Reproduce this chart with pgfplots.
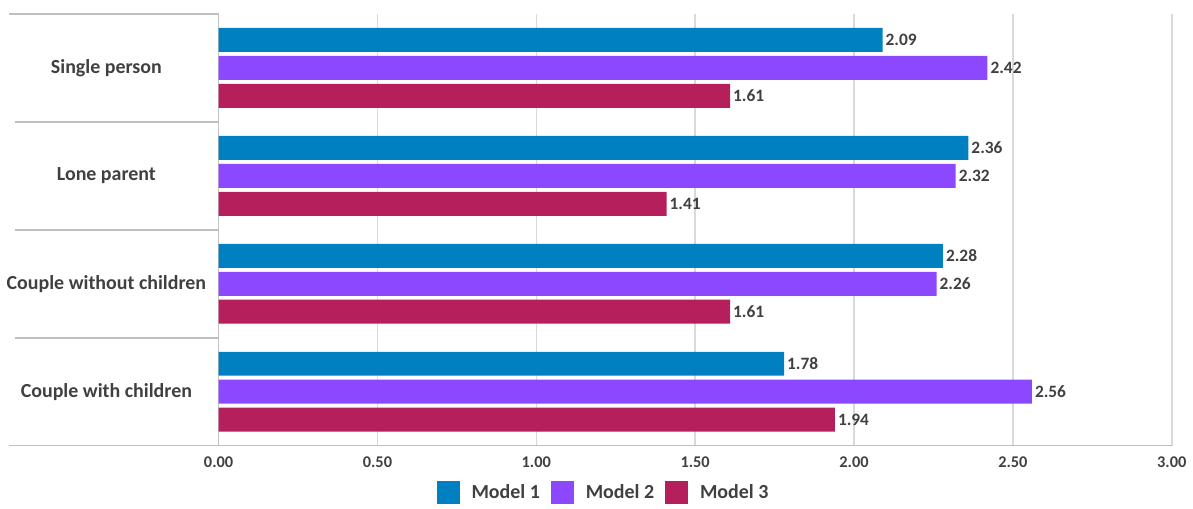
\documentclass[border=0pt]{standalone}
\usepackage{pgfplots}
\pgfplotsset{compat=1.18}
\usepackage{fontspec}
\setmainfont{Carlito}
\definecolor{mA}{HTML}{0080C0}
\definecolor{mB}{HTML}{8C48FF}
\definecolor{mC}{HTML}{B5205C}
\definecolor{txt}{HTML}{404040}
\definecolor{axl}{HTML}{BFBFBF}
\definecolor{grd}{HTML}{D9D9D9}
\pgfplotsset{sq/.style={legend image code/.code={\fill[##1] (0pt,-5.75pt) rectangle (11.5pt,5.75pt);}}}
\begin{document}
\begin{tikzpicture}
\begin{axis}[
  scale only axis, width=478pt, height=216.5pt,
  xbar, bar width=0.222,
  xmin=0, xmax=3, ymin=-0.5, ymax=3.5, y dir=reverse,
  axis x line*=bottom, axis y line*=left,
  axis line style={axl, line width=0.8pt},
  xtick={0,0.5,1,1.5,2,2.5,3},
  xticklabel={\pgfmathprintnumber[fixed,fixed zerofill,precision=2]{\tick}},
  /pgf/number format/assume math mode=true,
  xmajorgrids, grid style={grd, line width=0.8pt},
  xtick style={draw=none},
  ytick={0,1,2,3},
  yticklabels={Single person,Lone parent,Couple without children,Couple with children},
  ytick style={draw=none},
  yticklabel style={anchor=center, xshift=-52pt, font=\bfseries\fontsize{10}{12}\selectfont, text=txt},
  xticklabel style={yshift=-2pt, font=\bfseries\fontsize{8.2}{9.8}\selectfont, text=txt},
  nodes near coords={\pgfmathprintnumber[fixed,fixed zerofill,precision=2]{\pgfplotspointmeta}},
  nodes near coords style={font=\bfseries\fontsize{8.7}{10}\selectfont, text=txt, anchor=west, xshift=-2pt},
  legend columns=3,
  legend style={at={(0.407,-0.1085)}, anchor=center, draw=none, font=\bfseries\fontsize{10}{12}\selectfont, text=txt,
    nodes={inner xsep=4pt},
    /tikz/every even column/.append style={column sep=1.5pt},
    /tikz/every odd column/.append style={column sep=2pt}},
  clip=false,
]
\addplot[fill=mA, draw=none, bar shift=-0.259, sq] coordinates {(2.09,0) (2.36,1) (2.28,2) (1.78,3)};
\addplot[fill=mB, draw=none, bar shift=0, sq] coordinates {(2.42,0) (2.32,1) (2.26,2) (2.56,3)};
\addplot[fill=mC, draw=none, bar shift=0.259, sq] coordinates {(1.61,0) (1.41,1) (1.61,2) (1.94,3)};
\legend{Model 1,Model 2,Model 3}
\draw[axl, line width=0.8pt] (axis cs:0,-0.5) -- ++(-105pt,0pt);
\draw[axl, line width=0.8pt] (axis cs:0,0.5) -- ++(-102pt,0pt);
\draw[axl, line width=0.8pt] (axis cs:0,1.5) -- ++(-102pt,0pt);
\draw[axl, line width=0.8pt] (axis cs:0,2.5) -- ++(-102pt,0pt);
\draw[axl, line width=0.8pt] (axis cs:0,3.5) -- ++(-105pt,0pt);
\end{axis}
\path ([shift={(-109.5pt,-30pt)}]current axis.south west) rectangle ([shift={(9pt,7pt)}]current axis.north east);
\end{tikzpicture}
\end{document}
